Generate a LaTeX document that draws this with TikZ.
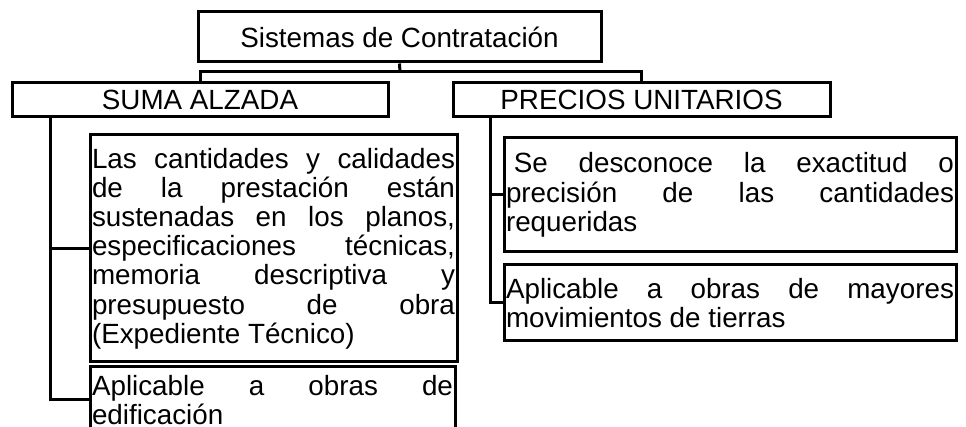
\documentclass[tikz,border=0pt]{standalone}
\usepackage{fontspec}
\setmainfont{Liberation Sans}
\usetikzlibrary{positioning}
\tolerance=10000
\hbadness=10000
\hyphenpenalty=10000

\begin{document}
\begin{tikzpicture}[x=0.5pt, y=-0.5pt, caja/.style={rectangle, draw, line width=1.5pt, inner xsep=1pt, inner ysep=0pt, font=\fontsize{13.9}{14.6}\selectfont}, texto/.style={caja, align=justify}, rama/.style={line width=1.5pt}]
\useasboundingbox (0,0) rectangle (966,427);

\node[caja, minimum width=201.5pt, minimum height=25pt] (sistemas) at (399.5,37) {Sistemas de Contratación};
\node[caja, minimum width=188pt, minimum height=17pt] (suma) at (200,100) {SUMA ALZADA};
\node[caja, minimum width=188.5pt, minimum height=17pt] (precios) at (641.5,100) {PRECIOS UNITARIOS};

\node[texto, text width=181.5pt, minimum height=113.5pt] (cant) at (273.5,248.5) {Las cantidades y calidades\linebreak de la prestación están\linebreak sustenadas en los planos,\linebreak especificaciones técnicas,\linebreak memoria descriptiva y\linebreak presupuesto de obra\linebreak (Expediente Técnico)};
\node[texto, text width=180.5pt, minimum height=33pt] (edif) at (272.5,400) {Aplicable a obras de\linebreak edificación};
\node[texto, text width=224pt, minimum height=57pt] (desc) at (730,195) {\hspace*{3.9pt}Se desconoce la exactitud o\linebreak precisión de las cantidades\linebreak requeridas};
\node[texto, text width=224pt, minimum height=38pt] (mov) at (730,303) {Aplicable a obras de mayores\linebreak movimientos de tierras};

\coordinate (barra) at (400,72);
\coordinate (eje1) at (50,117);
\coordinate (eje2) at (490,117);

\draw[rama] (sistemas.south) -- (barra);
\draw[rama] (suma.north) |- (barra) -| (precios.north);
\draw[rama] (eje1) |- (cant.west);
\draw[rama] (eje1) |- (edif.west);
\draw[rama] (eje2) |- (desc.west);
\draw[rama] (eje2) |- (mov.west);
\end{tikzpicture}
\end{document}
